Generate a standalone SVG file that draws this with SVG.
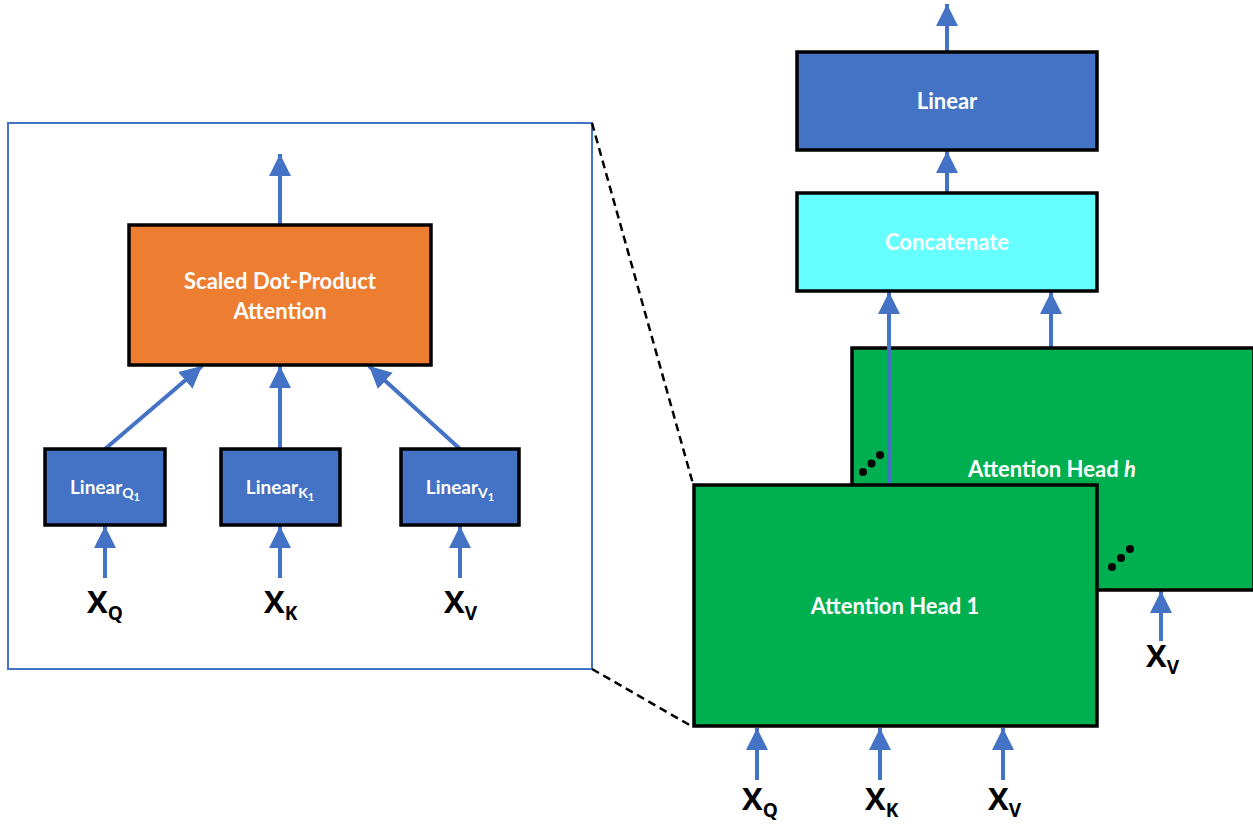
<svg xmlns="http://www.w3.org/2000/svg" width="1253" height="825" viewBox="0 0 1253 825">
<style>
.box{stroke:#000;stroke-width:3.5}
.lbl{font-family:Lato,"Open Sans","Liberation Sans",sans-serif;font-weight:bold;fill:#fff;text-anchor:middle}
.x{font-family:"Open Sans","Liberation Sans",sans-serif;font-weight:bold;fill:#000}
.arr{stroke:#4472C4;stroke-width:4;fill:none;marker-end:url(#ah)}
.dash{stroke:#000;stroke-width:2.5;stroke-dasharray:8,5;fill:none}
</style>
<defs>
<marker id="ah" markerUnits="userSpaceOnUse" markerWidth="24" markerHeight="24" viewBox="0 0 24 24" refX="22" refY="12" orient="auto">
<path d="M0,1 L22,12 L0,23 Z" fill="#4472C4"/>
</marker>
</defs>
<rect width="1253" height="825" fill="#fff"/>
<g id="zoom-panel">
<rect x="8" y="123" width="584" height="546" fill="none" stroke="#4472C4" stroke-width="2"/>
</g>
<g id="connectors">
<path class="dash" d="M592,123 L693,484"/>
<path class="dash" d="M592,669 L693,727"/>
<path class="arr" d="M280,225 L280,154"/>
<path class="arr" d="M105,449 L202,366"/>
<path class="arr" d="M280,449 L280,366"/>
<path class="arr" d="M460,449 L369,366"/>
<path class="arr" d="M105,578 L105,526"/>
<path class="arr" d="M280,578 L280,526"/>
<path class="arr" d="M460,578 L460,526"/>
<path class="arr" d="M947,52 L947,4"/>
<path class="arr" d="M947,193 L947,151"/>
<path class="arr" d="M1051,347 L1051,292"/>
<path class="arr" d="M1161,641 L1161,591"/>
</g>
<g id="head-h">
<rect class="box" x="852" y="348" width="402" height="242" fill="#00B050"/>
<text class="lbl" x="1052" y="477" font-size="22">Attention Head <tspan font-style="italic">h</tspan></text>
<circle cx="863" cy="472" r="4" fill="#000"/>
<circle cx="871.5" cy="463.5" r="4" fill="#000"/>
<circle cx="880" cy="455" r="4" fill="#000"/>
<circle cx="1112" cy="567" r="4" fill="#000"/>
<circle cx="1121" cy="558" r="4" fill="#000"/>
<circle cx="1130" cy="549" r="4" fill="#000"/>
</g>
<g id="connector-head1">
<path class="arr" d="M889,485 L889,292"/>
</g>
<g id="head-1">
<rect class="box" x="694" y="485" width="403" height="241" fill="#00B050"/>
<text class="lbl" x="895" y="614" font-size="22">Attention Head 1</text>
</g>
<g id="linear-out">
<rect class="box" x="797" y="52" width="300" height="98" fill="#4472C4"/>
<text class="lbl" x="947" y="109" font-size="22">Linear</text>
</g>
<g id="concat">
<rect class="box" x="797" y="193" width="300" height="98" fill="#66FFFF"/>
<text class="lbl" x="947" y="250" font-size="22">Concatenate</text>
</g>
<g id="sdpa">
<rect class="box" x="129" y="225" width="302" height="140" fill="#ED7D31"/>
<text class="lbl" x="280" y="289" font-size="22">Scaled Dot-Product</text>
<text class="lbl" x="280" y="319" font-size="22">Attention</text>
</g>
<g id="linear-q">
<rect class="box" x="45" y="449" width="120" height="76" fill="#4472C4"/>
<text class="lbl" x="105" y="494" font-size="19">Linear<tspan font-size="14" dy="4">Q</tspan><tspan font-size="11" dy="3">1</tspan></text>
</g>
<g id="linear-k">
<rect class="box" x="221" y="449" width="119" height="76" fill="#4472C4"/>
<text class="lbl" x="280" y="494" font-size="19">Linear<tspan font-size="14" dy="4">K</tspan><tspan font-size="11" dy="3">1</tspan></text>
</g>
<g id="linear-v">
<rect class="box" x="401" y="449" width="118" height="76" fill="#4472C4"/>
<text class="lbl" x="460" y="494" font-size="19">Linear<tspan font-size="14" dy="4">V</tspan><tspan font-size="11" dy="3">1</tspan></text>
</g>
<g id="inputs-left">
<text class="x" x="87" y="613" font-size="31">X<tspan font-size="19" dy="7">Q</tspan></text>
<text class="x" x="264" y="613" font-size="31">X<tspan font-size="19" dy="7">K</tspan></text>
<text class="x" x="444" y="613" font-size="31">X<tspan font-size="19" dy="7">V</tspan></text>
</g>
<g id="inputs-right">
<path class="arr" d="M757,780 L757,728"/>
<path class="arr" d="M880,780 L880,728"/>
<path class="arr" d="M1003,780 L1003,728"/>
<text class="x" x="742" y="810" font-size="31">X<tspan font-size="19" dy="7">Q</tspan></text>
<text class="x" x="865" y="810" font-size="31">X<tspan font-size="19" dy="7">K</tspan></text>
<text class="x" x="988" y="810" font-size="31">X<tspan font-size="19" dy="7">V</tspan></text>
<text class="x" x="1146" y="667" font-size="31">X<tspan font-size="19" dy="7">V</tspan></text>
</g>
</svg>
